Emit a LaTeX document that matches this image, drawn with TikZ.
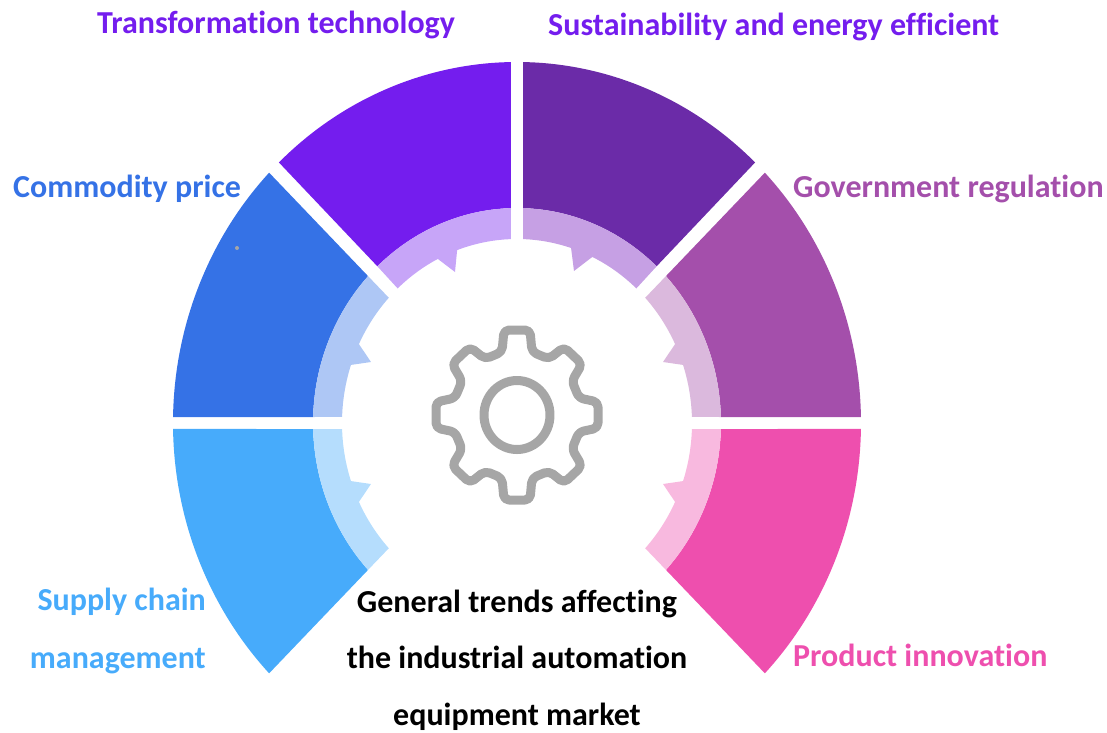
\documentclass[tikz,border=0pt]{standalone}
\usepackage{fontspec}
\setmainfont[Ligatures=NoCommon]{Carlito}
\definecolor{transform}{HTML}{741DEE}
\definecolor{sustain}{HTML}{6B2BA8}
\definecolor{sustainlight}{HTML}{C6A0E4}
\definecolor{commodity}{HTML}{3572E6}
\definecolor{government}{HTML}{A44FAB}
\definecolor{supply}{HTML}{47ABFB}
\definecolor{product}{HTML}{EE4FAE}
\definecolor{gearline}{HTML}{A6A6A6}
\tikzset{
    trend/.style={inner sep=0pt, font=\bfseries\fontsize{32}{58}\selectfont},
    gearstroke/.style={draw=gearline, line width=9pt, line join=round}
}
\begin{document}
\begin{tikzpicture}[x=1pt,y=1pt]
    \useasboundingbox (-517,-309) rectangle (590,423);
    \foreach \col/\lcol/\sx/\ta/\tipx/\tipy/\tb in {transform/transform!40/1/110/-62/151/116.9, sustain/sustainlight/-1/108/-57/152/115.5}{
        \begin{scope}[xscale=\sx]
        \fill[\col] (133.8:344 and 361) arc[start angle=133.8, end angle=91, x radius=344, y radius=361]
            -- (91.7:204 and 215) arc[start angle=91.7, end angle=133.2, x radius=204, y radius=215] -- cycle;
        \fill[\lcol] (133.2:204 and 215) arc[start angle=133.2, end angle=91.7, x radius=204, y radius=215]
            -- (92:175 and 184) arc[start angle=92, end angle=\ta, x radius=175, y radius=184]
            -- (\tipx,\tipy) -- (\tb:175 and 184) arc[start angle=\tb, end angle=133, x radius=175, y radius=184] -- cycle;
        \end{scope}
    }
    \foreach \col/\sx/\sy in {commodity/1/1, government/-1/1, supply/1/-1, product/-1/-1}{
        \begin{scope}[xscale=\sx,yscale=\sy]
        \fill[\col] (136.1:344 and 361) arc[start angle=136.1, end angle=179.05, x radius=344, y radius=361]
            -- (178.4:204 and 215) arc[start angle=178.4, end angle=136.9, x radius=204, y radius=215] -- cycle;
        \fill[\col!40] (136.9:204 and 215) arc[start angle=136.9, end angle=178.4, x radius=204, y radius=215]
            -- (178.1:175 and 184) arc[start angle=178.1, end angle=161.6, x radius=175, y radius=184]
            -- (-146,61) -- (154.6:175 and 184) arc[start angle=154.6, end angle=137.1, x radius=175, y radius=184] -- cycle;
        \end{scope}
    }
    \fill[gearline] (-280,175) circle [radius=2];
    \draw[gearstroke] (0,8) ellipse [x radius=33, y radius=34.5];
    \draw[gearstroke, rounded corners=5pt] (-13,93) -- (-15,71) -- (-32,64) -- (-47,76) -- (-65,59) -- (-55,42) -- (-62,25) -- (-81,21)
        -- (-81,-5) -- (-62,-9) -- (-55,-26) -- (-65,-43) -- (-47,-60) -- (-32,-48) -- (-15,-55) -- (-13,-77)
        -- (13,-77) -- (15,-55) -- (32,-48) -- (47,-60) -- (65,-43) -- (55,-26) -- (62,-9) -- (81,-5)
        -- (81,21) -- (62,25) -- (55,42) -- (65,59) -- (47,76) -- (32,64) -- (15,71) -- (13,93) -- cycle;
    \node[trend, transform, anchor=base west] at (-420,390) (TT) {Transformation technology};
    \node[trend, transform, anchor=base west] at (31,388) (SE) {Sustainability and energy efficient};
    \node[trend, commodity, anchor=base west] at (-504,226) (CP) {Commodity price};
    \node[trend, government, anchor=base west] at (276,226) (GR) {Government regulation};
    \node[trend, supply, align=right, anchor=base east] at (-311,-245) (SC) {Supply chain\\management};
    \node[trend, product, anchor=base west] at (276,-243) (PI) {Product innovation};
    \node[trend, black, align=center, anchor=base] at (0,-302) (GT) {General trends affecting\\[-1.5pt]the industrial automation\\[-1.5pt]equipment market};
\end{tikzpicture}
\end{document}
